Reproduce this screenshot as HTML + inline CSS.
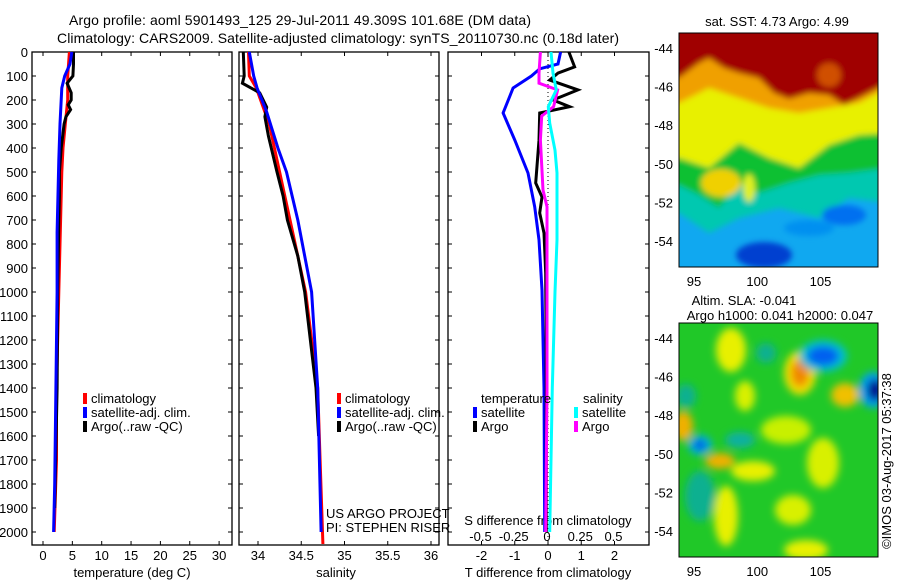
<!DOCTYPE html>
<html><head><meta charset="utf-8"><style>
html,body{margin:0;padding:0;background:#fff}
svg{display:block;font-family:"Liberation Sans",sans-serif}
text{font-size:13px;fill:#000}
</style></head><body>
<svg id="s" width="900" height="580" viewBox="0 0 900 580" xmlns="http://www.w3.org/2000/svg">
<defs>
<filter id="bl" x="-20%" y="-20%" width="140%" height="140%"><feGaussianBlur stdDeviation="3"/></filter>
<filter id="bl2" x="-50%" y="-50%" width="200%" height="200%"><feGaussianBlur stdDeviation="4"/></filter>
<clipPath id="c1"><rect x="0" y="0" width="199" height="234"/></clipPath>
</defs>
<text x="300" y="25" text-anchor="middle" textLength="462" style="font-size:14px">Argo profile: aoml 5901493_125 29-Jul-2011 49.309S 101.68E (DM data)</text>
<text x="338" y="43" text-anchor="middle" textLength="562" style="font-size:14px">Climatology: CARS2009. Satellite-adjusted climatology: synTS_20110730.nc (0.18d later)</text>
<g id="g"></g>
<g transform="translate(679,33)">
<g clip-path="url(#c1)">
<rect width="199" height="234" fill="#10a8f0"/>
<g filter="url(#bl)">
<polygon fill="#00c8b0" points="-10,-10 209,-10 209,170 170,165 140,185 100,175 60,185 30,200 0,180 -10,180"/>
<polygon fill="#10c030" points="-10,-10 209,-10 209,135 170,140 140,142 110,150 80,160 60,150 40,175 20,162 0,152 -10,152"/>
<polygon fill="#e8f000" points="-10,-10 209,-10 209,100 180,102 150,112 120,135 90,125 60,110 30,135 0,125 -10,125"/>
<ellipse cx="42" cy="150" rx="20" ry="14" fill="#f0d000"/>
<ellipse cx="70" cy="155" rx="6" ry="14" fill="#e0f020"/>
<polygon fill="#f0a000" points="-10,-10 209,-10 209,55 180,70 150,75 120,80 90,75 60,65 30,55 0,70 -10,70"/>
<polygon fill="#a00000" points="-10,-10 209,-10 209,50 180,65 165,72 150,62 130,60 110,66 95,60 80,45 60,40 45,35 30,25 20,30 0,45 -10,45"/>
<ellipse cx="150" cy="42" rx="12" ry="12" fill="#d05000"/>
<ellipse cx="85" cy="222" rx="28" ry="13" fill="#0040d0"/>
<ellipse cx="165" cy="182" rx="22" ry="10" fill="#0070f0"/>
<ellipse cx="130" cy="195" rx="25" ry="8" fill="#0090f0"/>
</g></g>
<rect width="199" height="234" fill="none" stroke="#000"/>
</g>
<g transform="translate(679,323)">
<g clip-path="url(#c1)">
<rect width="199" height="234" fill="#20c828"/>
<g filter="url(#bl2)">
<ellipse cx="21" cy="173" rx="15" ry="25" fill="#10b090"/>
<ellipse cx="61" cy="117" rx="15" ry="8" fill="#10b0a0"/>
<ellipse cx="87" cy="30" rx="10" ry="10" fill="#10b090"/>
<ellipse cx="7" cy="73" rx="10" ry="12" fill="#10b090"/>
<ellipse cx="52" cy="27" rx="15" ry="22" fill="#e8f000"/>
<ellipse cx="74" cy="148" rx="22" ry="10" fill="#e8f000"/>
<ellipse cx="47" cy="193" rx="12" ry="30" fill="#e8f000"/>
<ellipse cx="114" cy="187" rx="18" ry="15" fill="#d8f000"/>
<ellipse cx="144" cy="140" rx="16" ry="25" fill="#d8f000"/>
<ellipse cx="127" cy="227" rx="22" ry="10" fill="#e8f000"/>
<ellipse cx="107" cy="107" rx="25" ry="14" fill="#c8f000"/>
<ellipse cx="66" cy="73" rx="10" ry="15" fill="#d8f000"/>
<ellipse cx="121" cy="50" rx="16" ry="22" fill="#f0e000"/>
<ellipse cx="121" cy="50" rx="9" ry="14" fill="#f08800"/>
<ellipse cx="166" cy="72" rx="14" ry="12" fill="#f0c000"/>
<ellipse cx="4" cy="103" rx="10" ry="15" fill="#f0b000"/>
<ellipse cx="41" cy="138" rx="15" ry="8" fill="#f0b000"/>
<ellipse cx="144" cy="33" rx="24" ry="16" fill="#00c0d0"/>
<ellipse cx="144" cy="33" rx="16" ry="10" fill="#0060f0"/>
<ellipse cx="194" cy="67" rx="14" ry="18" fill="#00a0f0"/>
<ellipse cx="196" cy="67" rx="8" ry="11" fill="#001090"/>
<ellipse cx="21" cy="122" rx="12" ry="10" fill="#00b0e0"/>
<ellipse cx="21" cy="122" rx="6" ry="5" fill="#0050e0"/>
</g></g>
<rect width="199" height="234" fill="none" stroke="#000"/>
</g>
<text x="777" y="26" text-anchor="middle">sat. SST: 4.73 Argo: 4.99</text>
<text x="744" y="305" text-anchor="middle">Altim. SLA: -0.041</text>
<text x="780" y="320" text-anchor="middle">Argo h1000: 0.041 h2000: 0.047</text>
<text transform="translate(891,461) rotate(-90)" text-anchor="middle">©IMOS 03-Aug-2017 05:37:38</text>
</svg>
<script>
const depthTicks=[0,100,200,300,400,500,600,700,800,900,1000,1100,1200,1300,1400,1500,1600,1700,1800,1900,2000];
const tempTicks=[0,5,10,15,20,25,30];
const salTicks=[34,34.5,35,35.5,36];
const salTickLabels=["34","34.5","35","35.5","36"];
const tdiffTicks=[-2,-1,0,1,2];
const sdiffTicks=[-0.5,-0.25,0,0.25,0.5];
const sdiffTickLabels=["-0.5","-0.25","0","0.25","0.5"];

const tClimDepth=[0,100,200,300,400,500,600,800,1000,1400,1700,2000];
const tClim=[4.5,4.2,4.2,3.8,3.4,3.2,3.1,2.9,2.7,2.3,2.3,1.9];
const tSatDepth=[0,50,100,150,300,450,750,1000,1400,1800,2000];
const tSat=[4.9,4.6,3.7,3.2,2.9,2.7,2.4,2.4,2.2,2.0,1.8];
const tArgoDepth=[0,50,100,130,170,200,220,240,270,300,400,500,600,700,1000,1400,1900];
const tArgo=[5.2,5.2,5.1,4.1,4.8,4.8,4.3,4.7,3.9,3.6,3.1,2.8,2.8,2.7,2.5,2.4,2.0];

const sClimDepth=[0,100,150,250,300,500,700,1000,1400,2050];
const sClim=[33.89,33.9,33.98,34.08,34.13,34.25,34.37,34.55,34.69,34.75];
const sSatDepth=[0,100,150,250,400,500,700,1000,1400,2000];
const sSat=[33.9,33.95,33.99,34.1,34.23,34.33,34.46,34.62,34.69,34.73];
const sArgoDepth=[0,100,130,170,230,270,350,500,600,700,850,1000,1400,1600];
const sArgo=[33.83,33.84,33.82,34.02,34.1,34.08,34.12,34.22,34.29,34.34,34.46,34.54,34.67,34.7];

const dDepth=[0,50,70,100,150,254,367,504,645,783,992,1400,2000];
const dTsat=[0.38,0.3,-0.25,-0.5,-1.05,-1.35,-1.0,-0.6,-0.4,-0.27,-0.18,-0.12,-0.1];
const dTArgoDepth=[0,62,88,117,158,200,228,254,367,546,604,671,754,921,1400,2000];
const dTArgo=[0.63,0.8,0.3,0.05,0.9,0.15,0.65,-0.25,-0.27,-0.37,-0.18,-0.25,-0.12,-0.07,-0.05,-0.05];
const dSDepth=[0,88,130,158,228,267,367,575,645,783,1400,2000];
const dSArgo=[-0.05,-0.06,-0.06,0.08,0.05,-0.04,-0.05,-0.03,0,0,0,-0.01];
const dSsatDepth=[0,88,158,228,296,409,504,783,1000,1400,2000];
const dSsat=[0.03,0.045,0.07,0.01,0.02,0.06,0.075,0.075,0.06,0.04,0.02];

const mapLats=[-44,-46,-48,-50,-52,-54];
const mapLons=[95,100,105];
const argoLon=101.68, argoLat=-49.309;

const yD=d=>52+d*0.24;
const xT=t=>43+t*5.87;
const xS=s=>258+(s-34)*86.5;
const xDT=t=>548+t*33.25;
const xDS=s=>547+s*133;
const mapX=lon=>694+(lon-95)*12.65;
const mapY=(lat,mt)=>mt+15+(-44-lat)*19.3;

const NS="http://www.w3.org/2000/svg";
const G=document.getElementById('g');
function mk(tag,attrs,parent){const e=document.createElementNS(NS,tag);for(const k in attrs)e.setAttribute(k,attrs[k]);(parent||G).appendChild(e);return e;}
function txt(x,y,s,anchor){const e=mk('text',{x:x,y:y,'text-anchor':anchor||'middle'});e.textContent=s;return e;}

const panels=[[32,232],[239,439],[448,649]];
const PTOP=52,PBOT=545;
panels.forEach((p,i)=>{
  const r=mk('rect',{x:p[0],y:PTOP,width:p[1]-p[0],height:PBOT-PTOP,fill:'none',stroke:'#000','stroke-width':1.3});
  
  
  depthTicks.forEach(d=>{
    mk('line',{x1:p[0],x2:p[0]+4,y1:yD(d),y2:yD(d),stroke:'#000'});
    mk('line',{x1:p[1],x2:p[1]-4,y1:yD(d),y2:yD(d),stroke:'#000'});
  });
});
depthTicks.forEach(d=>{
  const t=txt(28,yD(d)+5,String(d),'end');
  
  
});
function xticks(vals,labels,fx,ly){
  vals.forEach((v,i)=>{
    mk('line',{x1:fx(v),x2:fx(v),y1:PTOP,y2:PTOP+4,stroke:'#000'});
    mk('line',{x1:fx(v),x2:fx(v),y1:PBOT,y2:PBOT-4,stroke:'#000'});
    const t=txt(fx(v),ly,labels[i]);
    
    
  });
}
xticks(tempTicks,tempTicks.map(String),xT,560);
xticks(salTicks,salTickLabels,xS,560);
xticks(tdiffTicks,tdiffTicks.map(String),xDT,560);
sdiffTickLabels.forEach((l,i)=>{const t=txt(xDS(sdiffTicks[i]),541,l);
  
  });

let t;
t=txt(132,577,'temperature (deg C)');
t=txt(336,577,'salinity');
t=txt(548,577,'T difference from climatology');
t=txt(548,525,'S difference from climatology');
t=txt(326,518,'US ARGO PROJECT','start');
t=txt(326,532,'PI: STEPHEN RISER','start');

const z=mk('line',{x1:xDT(0),x2:xDT(0),y1:PTOP,y2:PBOT,stroke:'#000','stroke-dasharray':'1,3'});



function series(depths,vals,fx,color,name){
  let pts=[];
  for(let i=0;i<depths.length;i++){
    pts.push(fx(vals[i]).toFixed(1)+','+yD(depths[i]).toFixed(1));
  }
  const pl=mk('polyline',{points:pts.join(' '),fill:'none',stroke:color,'stroke-width':3,'stroke-linejoin':'miter'});
  
  
}
series(tClimDepth,tClim,xT,'#ff0000','temp-climatology-line');
series(tArgoDepth,tArgo,xT,'#000','temp-argo-line');
series(tSatDepth,tSat,xT,'#0000ff','temp-satellite-line');
series(sClimDepth,sClim,xS,'#ff0000','sal-climatology-line');
series(sArgoDepth,sArgo,xS,'#000','sal-argo-line');
series(sSatDepth,sSat,xS,'#0000ff','sal-satellite-line');
series(dDepth,dTsat,xDT,'#0000ff','tdiff-satellite-line');
series(dTArgoDepth,dTArgo,xDT,'#000','tdiff-argo-line');
series(dSDepth,dSArgo,xDS,'#ff00ff','sdiff-argo-line');
series(dSsatDepth,dSsat,xDS,'#00ffff','sdiff-satellite-line');

function legend(x,y,color,label){
  const m=mk('rect',{x:x-2,y:y-10,width:4,height:11,fill:color});
  
  
  const tt=txt(x+6,y,label,'start');
  
  
}
[['#ff0000','climatology'],['#0000ff','satellite-adj. clim.'],['#000','Argo(..raw -QC)']].forEach((e,i)=>{
  legend(85,403+i*14,e[0],e[1]);legend(339,403+i*14,e[0],e[1]);
});
t=txt(481,403,'temperature','start');
t=txt(583,403,'salinity','start');
legend(475,417,'#0000ff','satellite');legend(475,431,'#000','Argo');
legend(576,417,'#00ffff','satellite');legend(576,431,'#ff00ff','Argo');

[33,323].forEach((mt,k)=>{
  mapLats.forEach(l=>{
    const y=mapY(l,mt);
    mk('line',{x1:679,x2:683,y1:y,y2:y,stroke:'#000'});
    mk('line',{x1:878,x2:874,y1:y,y2:y,stroke:'#000'});
    const tt=txt(673,y+5,String(l),'end');
    
    
  });
  mapLons.forEach(l=>{
    const x=mapX(l);
    mk('line',{x1:x,x2:x,y1:mt,y2:mt+4,stroke:'#000'});
    mk('line',{x1:x,x2:x,y1:mt+234,y2:mt+230,stroke:'#000'});
    const tt=txt(x,mt+253,String(l));
    
    
  });
  const c=mk('circle',{cx:mapX(argoLon),cy:mapY(argoLat,mt),r:5,fill:k==0?'#60e020':'#20c828',stroke:'#000'});
  
  
});
</script>
</body></html>
